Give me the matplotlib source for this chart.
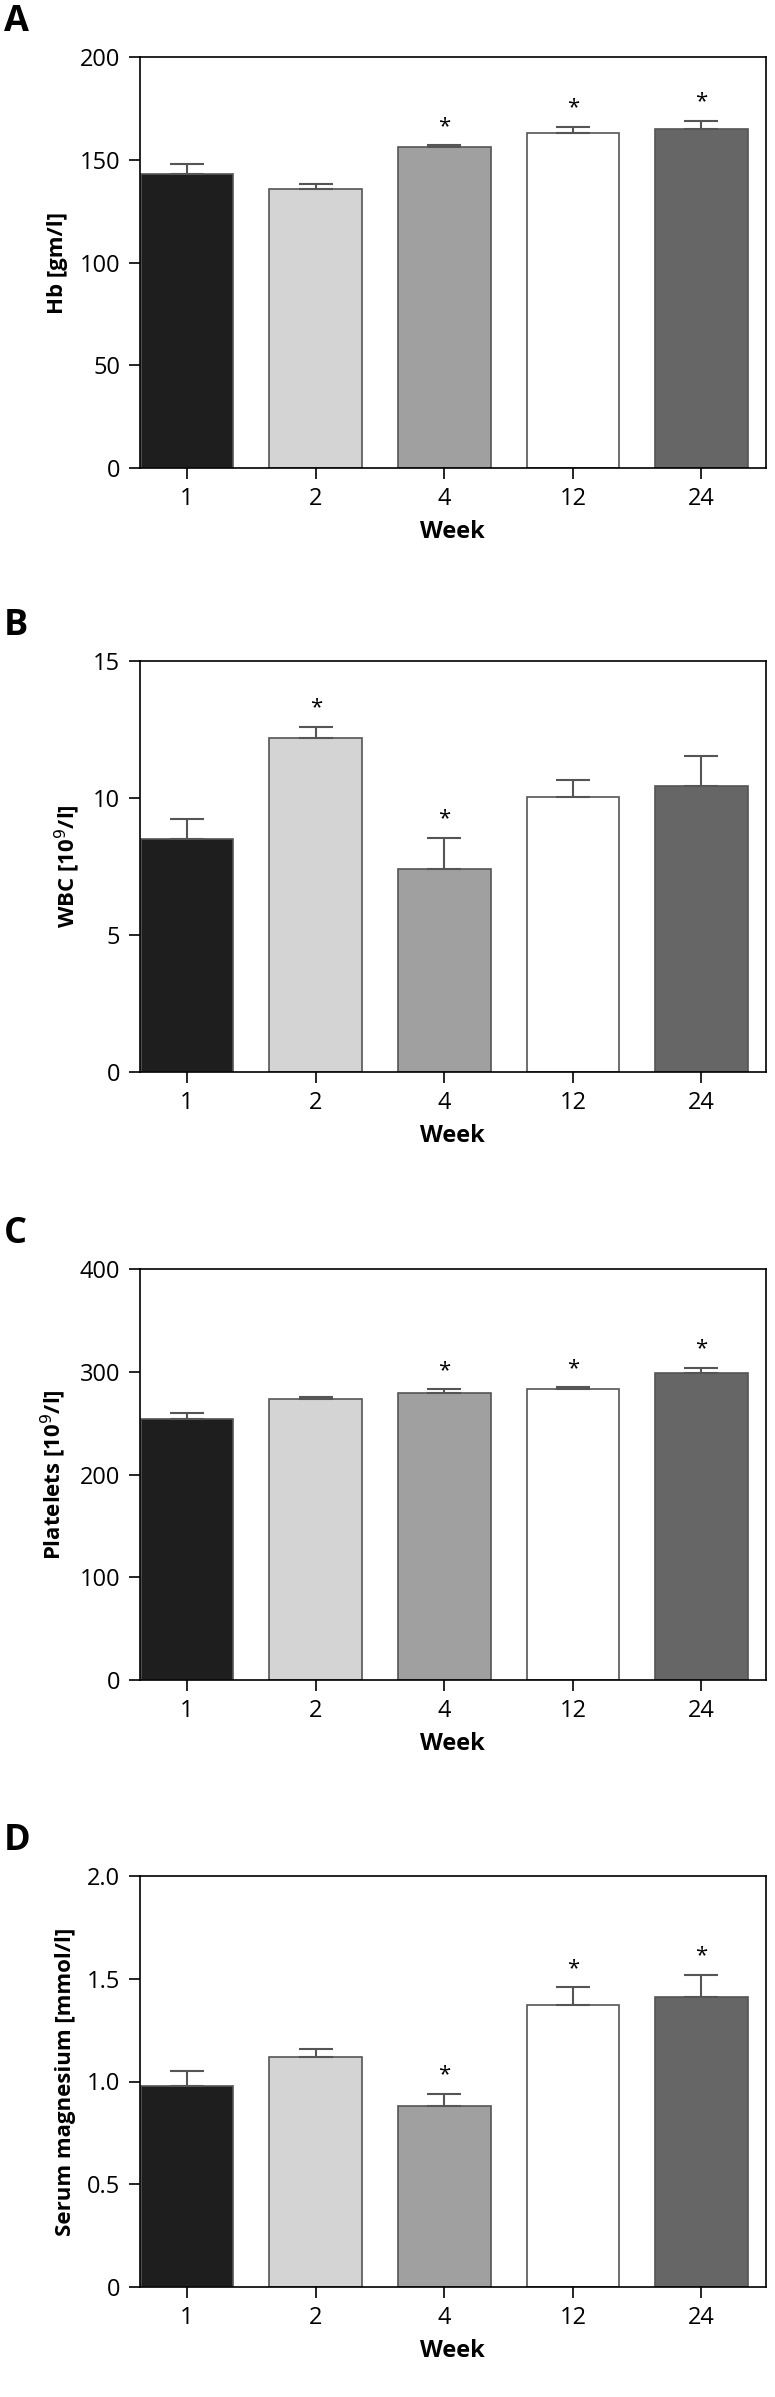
import matplotlib
matplotlib.use("Agg")
import matplotlib.pyplot as plt

plt.rcParams['font.family'] = ['Open Sans', 'DejaVu Sans']

weeks = ["1", "2", "4", "12", "24"]
colors = ["#1e1e1e", "#d4d4d4", "#a0a0a0", "#ffffff", "#666666"]

hb = [143, 136, 156, 163, 165]
hb_err = [5, 2, 1, 3, 4]
wbc = [8.5, 12.2, 7.4, 10.05, 10.45]
wbc_err = [0.75, 0.4, 1.15, 0.6, 1.1]
plt_v = [254, 273, 279, 283, 299]
plt_err = [6, 2, 4, 2, 5]
mg = [0.98, 1.12, 0.88, 1.37, 1.41]
mg_err = [0.07, 0.04, 0.06, 0.09, 0.11]

panels = [
    ("A", "Hb [gm/l]", hb, hb_err, [False, False, True, True, True], 200, [0, 50, 100, 150, 200], lambda v: f"{v:g}"),
    ("B", "WBC [10$^9$/l]", wbc, wbc_err, [False, True, True, False, False], 15, [0, 5, 10, 15], lambda v: f"{v:g}"),
    ("C", "Platelets [10$^9$/l]", plt_v, plt_err, [False, False, True, True, True], 400, [0, 100, 200, 300, 400], lambda v: f"{v:g}"),
    ("D", "Serum magnesium [mmol/l]", mg, mg_err, [False, False, True, True, True], 2.0, [0, 0.5, 1.0, 1.5, 2.0], lambda v: "0" if v == 0 else f"{v:.1f}"),
]

H = 2397
fig = plt.figure(figsize=(7.75, 23.97), dpi=100)
tops = [57, 661, 1269, 1876]
ah = 411
for (letter, ylab, vals, errs, stars, ymax, yt, fmt), top in zip(panels, tops):
    ax = fig.add_axes([0.18, 1 - (top + ah) / H, 0.808, ah / H])
    x = range(len(vals))
    ax.bar(x, vals, width=0.72, color=colors, edgecolor="#555555", linewidth=1.2, zorder=2)
    ax.errorbar(x, vals, yerr=[[0]*len(vals), errs], fmt="none", ecolor="#555555",
                elinewidth=1.5, capsize=12, capthick=1.5, zorder=3)
    for i, s in enumerate(stars):
        if s:
            ax.text(i, vals[i] + errs[i] + ymax * 0.02, "*", ha="center", va="bottom", fontsize=16)
    ax.set_xlim(-0.37, 4.5)
    ax.set_ylim(0, ymax)
    ax.set_yticks(yt)
    ax.set_yticklabels([fmt(v) for v in yt])
    ax.set_xticks(list(x))
    ax.set_xticklabels(weeks)
    ax.tick_params(direction="out", length=8, width=1.2, labelsize=17, pad=6)
    for sp in ax.spines.values():
        sp.set_linewidth(1.2)
    ax.set_xlabel("Week", fontsize=17, fontweight="bold", labelpad=6)
    ax.set_ylabel(ylab, fontsize=16, fontweight="bold", labelpad=8)
    fig.text(0.005, 1 - (top - 35) / H, letter, fontsize=26, fontweight="bold", va="center")

fig.savefig("out.png", dpi=100)
